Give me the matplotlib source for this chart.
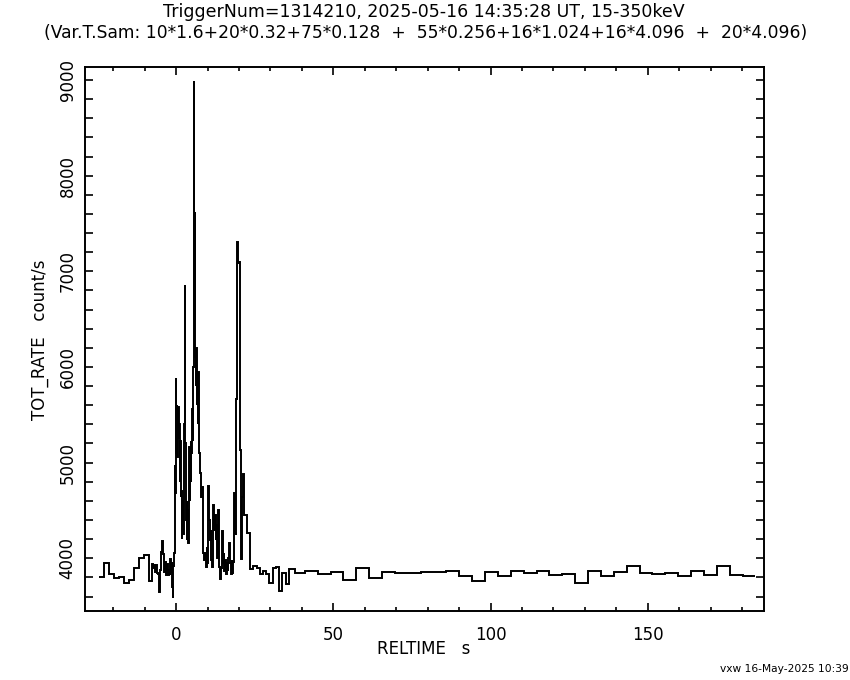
import numpy as np
import matplotlib
matplotlib.use('Agg')
import matplotlib.pyplot as plt
from matplotlib.ticker import MultipleLocator

# bin scheme (s) and count rates
t_start = -24.6
seg_counts = [10, 20, 75, 55, 19, 35]
seg_widths = [1.6, 0.32, 0.128, 0.256, 1.024, 4.096]

rate_1p6 = [3808, 3955, 3833, 3798, 3808, 3746, 3777, 3903, 4007, 4039]

rate_0p32 = [3767, 3767, 3767, 3940, 3895, 3927, 3857, 3927, 3847, 3833,
             3648, 3875, 4066, 4178, 4049, 3857, 3962, 3822, 3944, 3822]

rate_0p128 = [3880, 3950, 3820, 3990, 3850, 3930, 3780, 3960, 3700, 3580,
              3920, 4050, 3960, 4050, 4970, 4680, 4850, 5880, 5100, 5600,
              5060, 5450, 5230, 5580, 5250, 5400, 4800, 5230, 4640, 5000,
              4700, 4200, 4600, 4300, 4500, 4250, 5100, 5400, 5800, 6860,
              5200, 4710, 4400, 4600, 4190, 4500, 4300, 4160, 4700, 4400,
              5165, 4600, 4900, 5230, 4800, 5100, 5300, 5560, 5230, 5500,
              6000, 8990, 6500, 7620, 7200, 6100, 5800, 6200, 5600, 6050,
              5900, 5400, 5950, 5300, 5750]

rate_0p256 = [5100, 4890, 4640, 4750, 4540, 4050, 3980, 4050, 3910, 4120,
              3950, 4760, 4400, 4190, 4300, 3980, 3910, 4555, 4300, 4450,
              4190, 4350, 4000, 4500, 3910, 3850, 3788, 3900, 4290, 3950,
              4050, 3870, 3980, 3840, 3950, 3870, 4000, 4160, 3950, 3840,
              3980, 3850, 3960, 4680, 4260, 4240, 5670, 7310, 7090, 7100,
              5670, 5130, 3990, 4640, 4885]

rate_1p024 = [4450, 4260, 3892, 3920, 3903, 3833, 3868, 3833, 3746, 3903,
              3910, 3662, 3850, 3735, 3892, 3892, 3850, 3850, 3850]

rate_4p096 = [3870, 3833, 3861, 3777, 3903, 3798, 3861, 3850, 3850, 3861,
              3861, 3871, 3812, 3767, 3861, 3812, 3871, 3850, 3871, 3822,
              3840, 3746, 3871, 3812, 3861, 3916, 3850, 3840, 3850, 3812,
              3871, 3822, 3916, 3822, 3812]

title1 = 'TriggerNum=1314210, 2025-05-16 14:35:28 UT, 15-350keV'
title2 = '(Var.T.Sam: 10*1.6+20*0.32+75*0.128  +  55*0.256+16*1.024+16*4.096  +  20*4.096)'
footer = 'vxw 16-May-2025 10:39'

widths = np.repeat(seg_widths, seg_counts)
edges = t_start + np.concatenate([[0], np.cumsum(widths)])
rates = np.concatenate([rate_1p6, rate_0p32, rate_0p128, rate_0p256,
                        rate_1p024, rate_4p096])

plt.rcParams['font.family'] = ['DejaVu Sans']
fig = plt.figure(figsize=(8.5, 6.8), dpi=100)
ax = fig.add_axes([0.1, 0.1015, 0.7988, 0.8])

ax.stairs(rates, edges, color='black', lw=1.4, baseline=None)

ax.set_xlim(-29.0, 187.0)
ax.set_ylim(3449, 9136)

ax.xaxis.set_major_locator(MultipleLocator(50))
ax.xaxis.set_minor_locator(MultipleLocator(10))
ax.yaxis.set_major_locator(MultipleLocator(1000))
ax.yaxis.set_minor_locator(MultipleLocator(200))
ax.tick_params(which='both', direction='in', top=True, right=True,
               width=1.2, labelsize=12)
ax.tick_params(axis='x', which='major', length=6)
ax.tick_params(axis='x', which='minor', length=3)
ax.tick_params(axis='y', which='both', length=6)
ax.tick_params(axis='x', pad=11)
ax.tick_params(axis='y', pad=6)
for lab in ax.get_yticklabels():
    lab.set_rotation(90)
    lab.set_va('center')
for sp in ax.spines.values():
    sp.set_linewidth(1.4)

fig.text(0.499, 0.982, title1, ha='center', va='center', fontsize=12.5)
fig.text(0.501, 0.951, title2, ha='center', va='center', fontsize=12.3)
fig.text(0.499, 0.045, 'RELTIME   s', ha='center', va='center', fontsize=12)
fig.text(0.047, 0.5, 'TOT_RATE   count/s', ha='center', va='center',
         rotation=90, fontsize=12)
fig.text(0.998, 0.016, footer, ha='right', va='center', fontsize=7.7)

fig.savefig('out.png', dpi=100)
